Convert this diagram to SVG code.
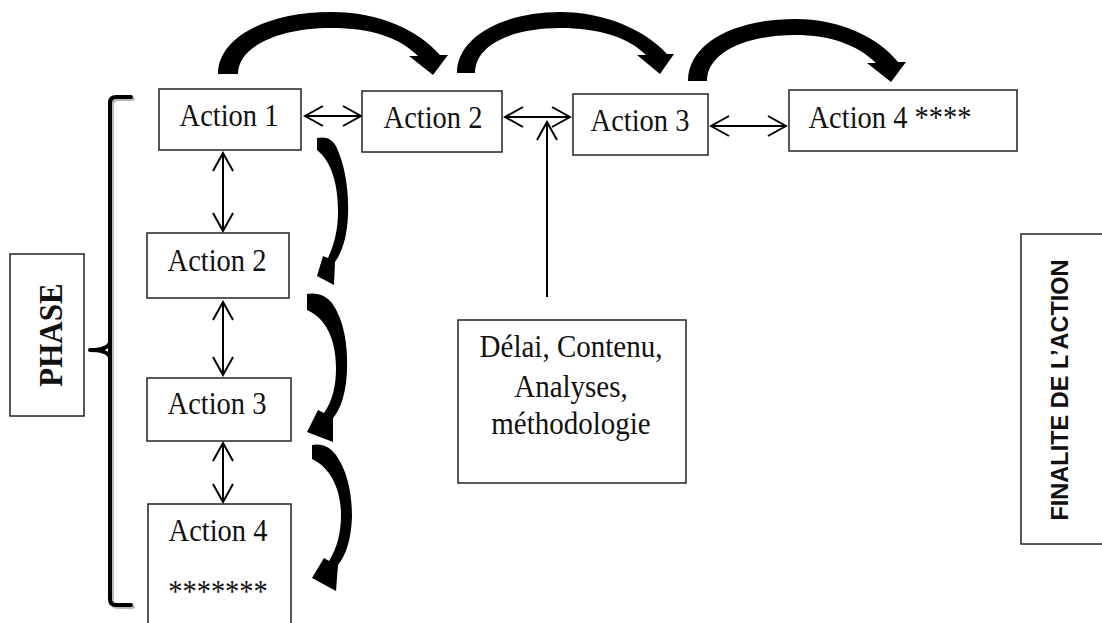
<svg xmlns="http://www.w3.org/2000/svg" width="1102" height="623" viewBox="0 0 1102 623">
<style>
.box{fill:#fff;stroke:#222;stroke-width:1.5}
.t{font-family:"Liberation Serif","Times New Roman",serif;font-size:28.5px;fill:#111;text-anchor:middle}
.d{font-family:"Liberation Serif","Times New Roman",serif;font-size:29px;fill:#111;text-anchor:middle}
.ln{stroke:#000;stroke-width:2;fill:none}
.big{fill:#000}
.br{fill:none;stroke:#000;stroke-width:4;stroke-linecap:round}
.brs{fill:none;stroke:#bbb;stroke-width:4;stroke-linecap:round}
</style>
<defs>
<marker id="h" markerUnits="userSpaceOnUse" markerWidth="22" markerHeight="24" viewBox="0 0 22 24" refX="20" refY="12" orient="auto-start-reverse">
<path d="M2,2 L20,12 L2,22" fill="none" stroke="#000" stroke-width="2"/>
</marker>
</defs>
<rect width="1102" height="623" fill="#fff"/>

<g id="connectors">
<path class="ln" d="M305,116 L361,116" marker-start="url(#h)" marker-end="url(#h)"/>
<path class="ln" d="M505,117 L570,117" marker-start="url(#h)" marker-end="url(#h)"/>
<path class="ln" d="M711,126 L786,126" marker-start="url(#h)" marker-end="url(#h)"/>
<path class="ln" d="M547,297 L547,122" marker-end="url(#h)"/>
<path class="ln" d="M223,153 L223,231" marker-start="url(#h)" marker-end="url(#h)"/>
<path class="ln" d="M223,302 L223,375" marker-start="url(#h)" marker-end="url(#h)"/>
<path class="ln" d="M223,443 L223,502" marker-start="url(#h)" marker-end="url(#h)"/>
<path class="big" d="M218,74 C218,38 266,12 331,12 C380,12 418,30 440,55 L448,55 L433,75 L409,56 L418,56 C400,38 372,28 331,28 C278,28 238,47 238,74 Z"/>
<path class="big" d="M457,73 C457,36 505,12 560,12 C605,12 645,30 667,54 L674,54 L660,74 L637,55 L646,55 C628,37 598,28 560,28 C510,28 475,46 475,73 Z"/>
<path class="big" d="M688,81 C688,43 735,19 795,19 C840,19 878,37 898,62 L906,62 L891,82 L867,63 L876,63 C858,45 830,35 795,35 C745,35 707,53 707,81 Z"/>
<path class="big" d="M317,138 C326,136 332,139 336,146 C345,165 349,190 348,215 C347,238 342,252 335,262 L334,285 L317,276 L323,256 L328,258 C334,245 338,230 338,212 C338,185 332,162 317,150 Z"/>
<path class="big" d="M307,294 C318,292 326,296 332,303 C344,320 348,345 347,370 C346,395 340,410 333,418 L333,442 L307,432 L318,410 L324,413 C333,400 336,385 336,368 C336,340 326,318 307,310 Z"/>
<path class="big" d="M312,445 C322,443 330,447 336,455 C348,472 352,495 352,517 C351,540 346,555 338,565 L336,591 L312,578 L324,558 L329,561 C337,548 341,533 341,515 C341,490 331,468 312,459 Z"/>
</g>

<g id="bracket">
<path class="brs" d="M133,99 L118,99 Q112,99 112,105 L112,601 Q112,607 118,607 L133,607"/>
<path class="br" d="M131,97 L116,97 Q110,97 110,103 L110,599 Q110,605 116,605 L131,605"/>
<path class="br" d="M90,350 Q107,350 110,343 M90,350 Q107,350 110,357"/>
</g>

<g id="phase">
<rect class="box" x="10" y="254" width="74" height="162"/>
<text x="0" y="0" transform="translate(62,335) rotate(-90) scale(1,1.12)" font-family="Liberation Serif,Times New Roman,serif" font-weight="bold" font-size="31" text-anchor="middle" fill="#111">PHASE</text>
</g>

<g id="finalite">
<rect class="box" x="1021" y="234" width="100" height="310"/>
<text x="0" y="0" transform="translate(1068,390) rotate(-90)" font-family="Liberation Sans,Arial,sans-serif" font-weight="bold" font-size="23.5" text-anchor="middle" fill="#111">FINALITE DE L’ACTION</text>
</g>

<g id="top-action1">
<rect class="box" x="159" y="89" width="142" height="61"/>
<text class="t" x="0" y="0" transform="translate(229,126) scale(1,1.1)">Action 1</text>
</g>
<g id="top-action2">
<rect class="box" x="362" y="91" width="140" height="61"/>
<text class="t" x="0" y="0" transform="translate(433,128) scale(1,1.1)">Action 2</text>
</g>
<g id="top-action3">
<rect class="box" x="573" y="94" width="135" height="61"/>
<text class="t" x="0" y="0" transform="translate(640,131) scale(1,1.1)">Action 3</text>
</g>
<g id="top-action4">
<rect class="box" x="789" y="90" width="228" height="61"/>
<text class="t" x="0" y="0" transform="translate(890,128) scale(1,1.1)">Action 4 ****</text>
</g>

<g id="left-action2">
<rect class="box" x="147" y="233" width="142" height="65"/>
<text class="t" x="0" y="0" transform="translate(217,271) scale(1,1.1)">Action 2</text>
</g>
<g id="left-action3">
<rect class="box" x="147" y="378" width="144" height="63"/>
<text class="t" x="0" y="0" transform="translate(217,414) scale(1,1.1)">Action 3</text>
</g>
<g id="left-action4">
<rect class="box" x="148" y="504" width="143" height="130"/>
<text class="t" x="0" y="0" transform="translate(218,541) scale(1,1.1)">Action 4</text>
<text class="t" x="0" y="0" transform="translate(218,602) scale(1,1.1)">*******</text>
</g>

<g id="delai">
<rect class="box" x="458" y="320" width="228" height="163"/>
<text class="d" x="0" y="0" transform="translate(571,357) scale(1,1.08)">Délai, Contenu,</text>
<text class="d" x="0" y="0" transform="translate(571,397) scale(1,1.08)">Analyses,</text>
<text class="d" x="0" y="0" transform="translate(571,434) scale(1,1.08)">méthodologie</text>
</g>
</svg>
